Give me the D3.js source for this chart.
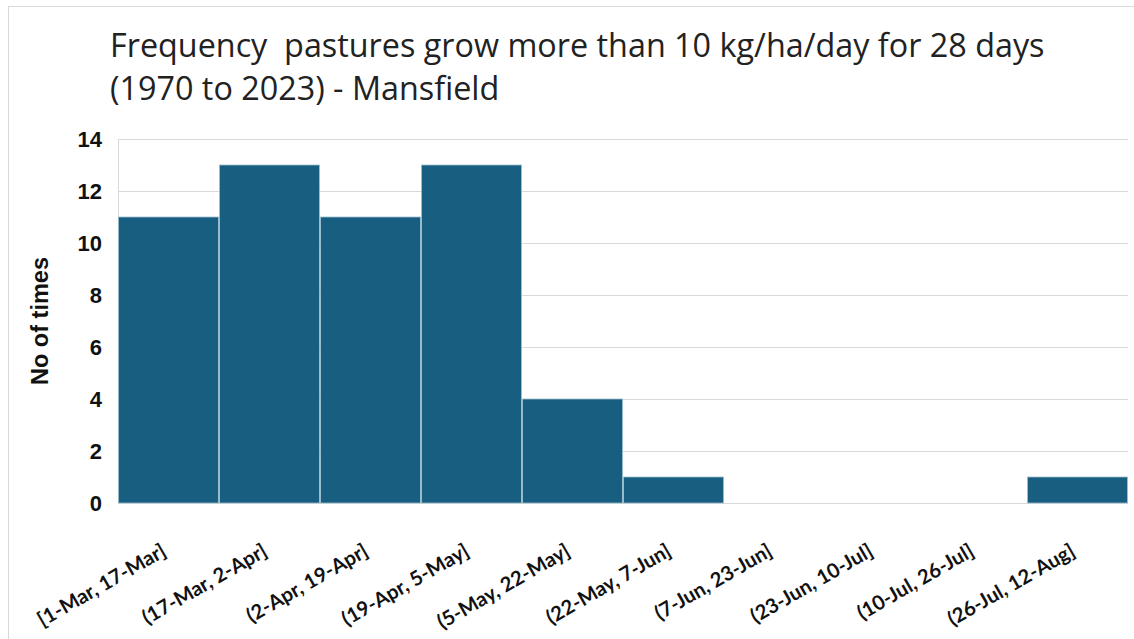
<!DOCTYPE html>
<html><head><meta charset="utf-8">
<script src="https://cdn.jsdelivr.net/npm/d3@7/dist/d3.min.js"></script>
<style>body{margin:0;background:#fff}svg{display:block}</style>
</head><body>
<script>
const categories = ["[1-Mar, 17-Mar]","(17-Mar, 2-Apr]","(2-Apr, 19-Apr]","(19-Apr, 5-May]","(5-May, 22-May]","(22-May, 7-Jun]","(7-Jun, 23-Jun]","(23-Jun, 10-Jul]","(10-Jul, 26-Jul]","(26-Jul, 12-Aug]"];
const counts = [11, 13, 11, 13, 4, 1, 0, 0, 0, 1];
const yTicks = [0, 2, 4, 6, 8, 10, 12, 14];
const titleLines = ["Frequency  pastures grow more than 10 kg/ha/day for 28 days", "(1970 to 2023) - Mansfield"];
const yLabel = "No of times";

const W = 1134, H = 639;
const m = {left: 118, right: 1128, top: 139, bottom: 503};
const svg = d3.select("body").append("svg").attr("width", W).attr("height", H);

svg.append("rect").attr("x", 8.5).attr("y", 6.5).attr("width", W).attr("height", H)
  .attr("fill", "#fff").attr("stroke", "#d9d9d9").attr("stroke-width", 1);

const x = d3.scaleBand().domain(categories).range([m.left, m.right]).padding(0);
const y = d3.scaleLinear().domain([0, 14]).range([m.bottom, m.top]);

// gridlines
svg.append("g").selectAll("line").data(yTicks).join("line")
  .attr("x1", m.left).attr("x2", m.right)
  .attr("y1", d => Math.round(y(d)) + 0.5).attr("y2", d => Math.round(y(d)) + 0.5)
  .attr("stroke", "#d9d9d9").attr("stroke-width", 1);
svg.append("line").attr("x1", m.left + 0.5).attr("x2", m.left + 0.5)
  .attr("y1", m.top).attr("y2", m.bottom).attr("stroke", "#d9d9d9");

// bars
svg.append("g").selectAll("rect").data(categories.map((c, i) => ({c, v: counts[i]})).filter(d => d.v > 0)).join("rect")
  .attr("x", d => x(d.c) + 0.5).attr("width", x.bandwidth() - 1)
  .attr("y", d => y(d.v)).attr("height", d => y(0) - y(d.v))
  .attr("fill", "#175e80").attr("stroke", "#9fbfcf").attr("stroke-width", 0.8);

// y axis
const yAxis = d3.axisLeft(y).tickValues(yTicks).tickSize(0).tickPadding(0);
const gy = svg.append("g").attr("transform", `translate(102,0)`).call(yAxis);
gy.select(".domain").remove();
gy.selectAll("text").attr("font-family", "Liberation Sans, Arial, sans-serif")
  .attr("font-weight", "bold").attr("font-size", 22).attr("fill", "#111").attr("dy", "0.36em");

// x axis
const xAxis = d3.axisBottom(x).tickSize(0).tickPadding(0);
const gx = svg.append("g").attr("transform", `translate(0,${m.bottom})`).call(xAxis);
gx.select(".domain").remove();
const xt = gx.selectAll("text")
  .attr("font-family", "Lato, sans-serif").attr("font-weight", "bold")
  .attr("font-size", 18).attr("fill", "#111")
  .attr("text-anchor", "end").attr("dy", 0).attr("y", 0)
  .attr("transform", "translate(-1,52) rotate(-30)");
const ref = xt.nodes()[1];
const xs = 140 / ref.getComputedTextLength();
xt.attr("font-size", 18 * xs);

// y label
svg.append("text").attr("transform", "translate(48,321) rotate(-90)")
  .attr("text-anchor", "middle").attr("font-family", "Liberation Sans, Arial, sans-serif")
  .attr("font-weight", "bold").attr("font-size", 23.5).attr("fill", "#111").text(yLabel);

// title
const t = svg.append("g");
titleLines.forEach((line, i) => {
  t.append("text").attr("x", 110).attr("y", 57 + i * 43)
    .attr("font-family", "Open Sans, sans-serif").attr("font-size", 28)
    .attr("fill", "#222").attr("xml:space", "preserve").style("white-space", "pre").text(line);
});
const first = t.select("text").node();
const scale = 935 / first.getComputedTextLength();
t.selectAll("text").attr("font-size", 28 * scale);
</script>
</body></html>
